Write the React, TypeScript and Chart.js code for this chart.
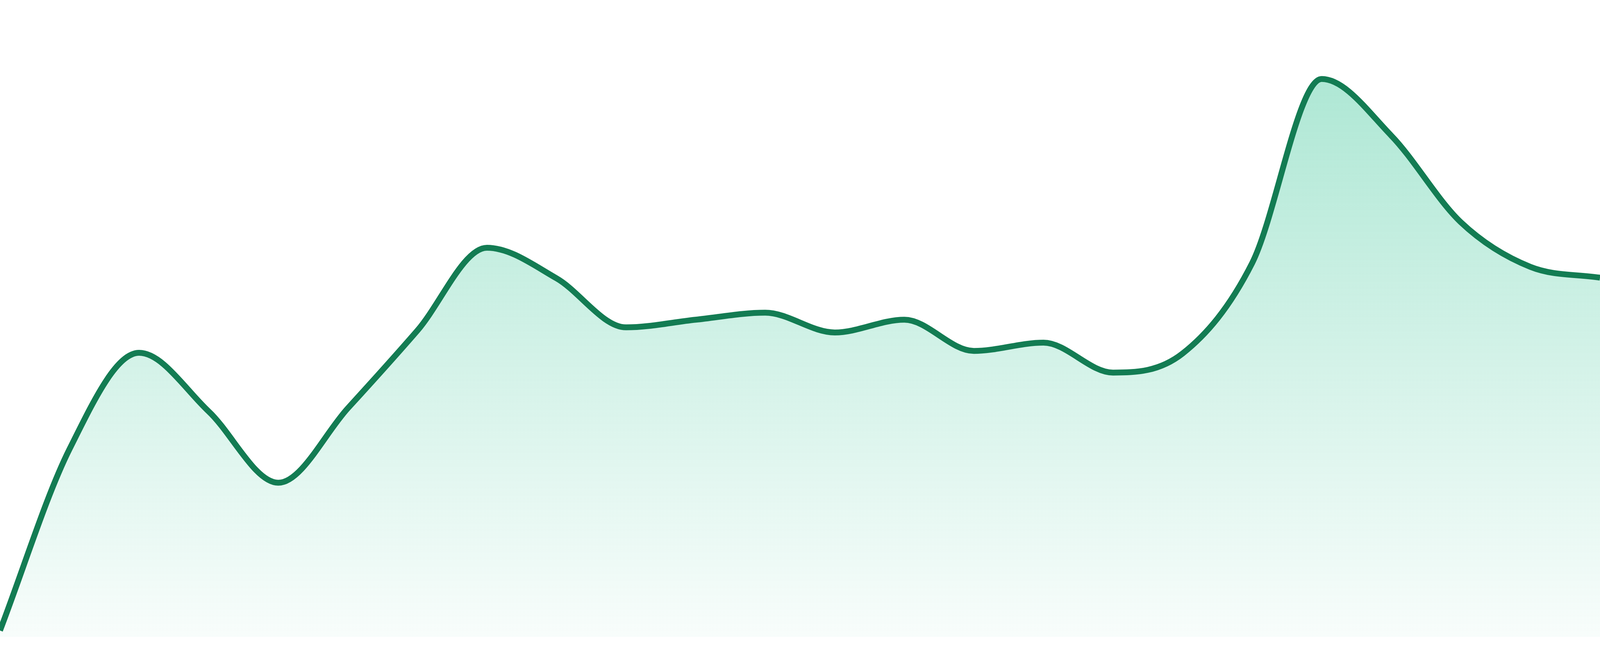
import React, { useRef, useEffect } from 'react';
import { Chart, registerables } from 'chart.js';

Chart.register(...registerables);

// hourly readings, one per hour
const hours: string[] = [
  '00:00', '01:00', '02:00', '03:00', '04:00', '05:00', '06:00', '07:00',
  '08:00', '09:00', '10:00', '11:00', '12:00', '13:00', '14:00', '15:00',
  '16:00', '17:00', '18:00', '19:00', '20:00', '21:00', '22:00', '23:00',
];

const values: number[] = [
  1.0, 29.5, 44.6, 35.4, 24.2, 35.9, 48.1, 61.1,
  56.3, 48.6, 49.8, 50.9, 47.8, 49.8, 44.9, 46.2,
  41.5, 44.5, 58.7, 87.6, 78.7, 65.1, 58.1, 56.4,
];

const yMin = -3;
const yMax = 100;

const lineColor = '#137c53';

const App: React.FC = () => {
  const chartRef = useRef<HTMLCanvasElement | null>(null);

  useEffect(() => {
    if (!chartRef.current) return;
    const ctx = chartRef.current.getContext('2d');
    if (!ctx) return;

    const chart = new Chart(ctx, {
      type: 'line',
      data: {
        labels: hours,
        datasets: [
          {
            data: values,
            borderColor: lineColor,
            borderWidth: 15,
            pointRadius: 0,
            cubicInterpolationMode: 'monotone',
            fill: 'origin',
            backgroundColor: (context: any) => {
              const { chart } = context;
              const area = chart.chartArea;
              if (!area) return 'rgba(16,185,129,0.2)';
              const g = chart.ctx.createLinearGradient(0, area.top, 0, area.bottom);
              g.addColorStop(0, 'rgba(16,185,129,0.38)');
              g.addColorStop(1, 'rgba(16,185,129,0.02)');
              return g;
            },
          },
        ],
      },
      options: {
        responsive: true,
        maintainAspectRatio: false,
        animation: false,
        layout: { padding: 0 },
        plugins: {
          legend: { display: false },
          tooltip: { enabled: false },
        },
        scales: {
          x: { display: false },
          y: { display: false, min: yMin, max: yMax },
        },
      },
    });

    return () => {
      chart.destroy();
    };
  }, []);

  return (
    <div style={{ position: 'fixed', left: 0, top: 0, width: '100vw', height: '100vh', background: '#fff' }}>
      <canvas ref={chartRef}></canvas>
    </div>
  );
};

export default App;
